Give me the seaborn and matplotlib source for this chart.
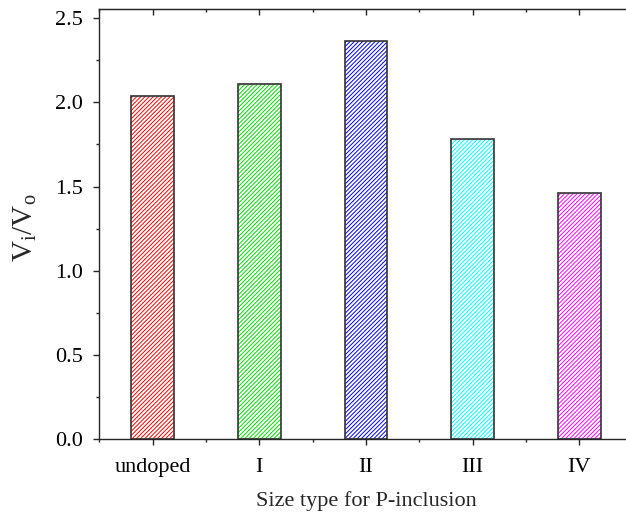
import numpy as np
import pandas as pd
import seaborn as sns
import matplotlib.pyplot as plt
from matplotlib.ticker import MultipleLocator, FixedLocator, NullLocator

# Vi/Vo for each P-inclusion size type
size_types = ['undoped', 'I', 'II', 'III', 'IV']
vi_vo = [2.04, 2.11, 2.365, 1.78, 1.46]
bar_colors = ['#ff0000', '#00dd00', '#0000ff', '#00ffff', '#ff00ff']

df = pd.DataFrame({'Size type': size_types, 'Vi/Vo': vi_vo})

sns.set_style('ticks')
plt.rcParams['font.family'] = ['Liberation Serif', 'DejaVu Serif']
plt.rcParams['mathtext.fontset'] = 'custom'
plt.rcParams['mathtext.rm'] = 'Liberation Serif'
plt.rcParams['mathtext.it'] = 'Liberation Serif:italic'
plt.rcParams['hatch.linewidth'] = 0.7

fig = plt.figure(figsize=(6.26, 5.14), dpi=100)
ax = fig.add_axes([0.1587, 0.1459, 0.852, 0.8366])

# hatched bars (hatch takes the edge colour), then dark outlines on top
sns.barplot(data=df, x='Size type', y='Vi/Vo', hue='Size type', palette=bar_colors,
            width=0.4, errorbar=None, legend=False, ax=ax)
for p, c in zip(ax.patches, bar_colors):
    p.set_facecolor('white')
    p.set_edgecolor(c)
    p.set_hatch('////////')
    p.set_linewidth(0)

sns.barplot(data=df, x='Size type', y='Vi/Vo', color='.2', fill=False,
            width=0.4, errorbar=None, linewidth=1.2, ax=ax)

ax.set_xlim(-0.5, 4.5)
ax.set_ylim(0, 2.555)
ax.yaxis.set_major_locator(MultipleLocator(0.5))
ax.yaxis.set_minor_locator(MultipleLocator(0.25))
ax.xaxis.set_minor_locator(FixedLocator(np.arange(-0.5, 5, 1)))

ax.tick_params(which='both', direction='out', width=1, colors='.15', labelcolor='black')
ax.tick_params(which='major', length=4.5, labelsize=16)
ax.tick_params(which='minor', length=2.5)
ax.tick_params(axis='x', which='major', pad=9)
ax.tick_params(axis='y', which='major', pad=7)
for s in ax.spines.values():
    s.set_linewidth(1.0)

# inward ticks on the right and top
sec_y = ax.secondary_yaxis('right')
sec_y.yaxis.set_major_locator(MultipleLocator(0.5))
sec_y.yaxis.set_minor_locator(NullLocator())
sec_y.tick_params(direction='in', length=4.5, width=1, labelright=False, colors='.15')

sec_x = ax.secondary_xaxis('top')
sec_x.set_xticks(range(len(size_types)))
sec_x.xaxis.set_minor_locator(FixedLocator(np.arange(-0.5, 5, 1)))
sec_x.tick_params(which='both', direction='in', width=1, labeltop=False, colors='.15')
sec_x.tick_params(which='major', length=4.5)
sec_x.tick_params(which='minor', length=2.5)

ax.set_xlabel('Size type for P-inclusion', fontsize=16)
ax.set_ylabel(r'$\mathrm{V_i/V_o}$', fontsize=21)
ax.xaxis.set_label_coords(0.5, -0.122)
ax.yaxis.set_label_coords(-0.113, 0.49)

fig.savefig('out.png', dpi=100)
